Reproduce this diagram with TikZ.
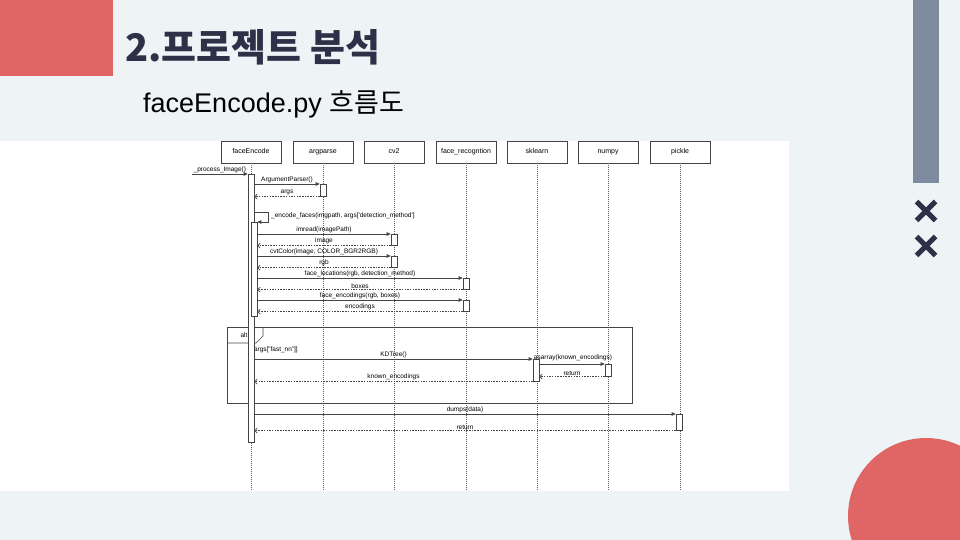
\documentclass[tikz,border=0pt]{standalone}
\usepackage{fontspec}
\setmainfont{Liberation Sans}
\newfontfamily\kr{Noto Sans CJK KR}
\usetikzlibrary{arrows.meta}
\definecolor{bgc}{HTML}{EEF3F6}
\definecolor{redc}{HTML}{E06666}
\definecolor{navy}{HTML}{2D3047}
\definecolor{barc}{HTML}{7E8A9E}
\definecolor{linec}{HTML}{444444}
\begin{document}
\begin{tikzpicture}[x=1pt,y=-1pt,
  part/.style={draw=linec, fill=white, minimum width=60pt, minimum height=22pt, inner sep=0pt, text height=5pt, text depth=1.5pt, font=\fontsize{7}{8}\selectfont, line width=0.6pt},
  life/.style={draw=black!65, line width=0.6pt, dash pattern=on 1pt off 1pt},
  actbar/.style={draw=linec, fill=white, minimum width=6pt, inner sep=0pt, line width=0.6pt, anchor=north},
  msg/.style={draw=linec, line width=0.6pt, -{Triangle[length=4pt,width=3.5pt]}},
  ret/.style={draw=linec, line width=0.6pt, dash pattern=on 1.5pt off 1.2pt, -{Straight Barb[length=2.5pt,width=5pt]}},
  lbl/.style={font=\fontsize{6.5}{7}\selectfont, inner sep=1pt, above},
  xmark/.style={draw=navy, line width=5pt}
]
\clip (0,0) rectangle (960,540);
\fill[bgc] (0,0) rectangle (960,540);
% decorations
\fill[redc] (0,0) rectangle (113,76);
\fill[barc] (913,0) rectangle (939,183);
\fill[redc] (926,516) circle (78);
\draw[xmark] (916.5,201.5) -- (935.5,220.5);
\draw[xmark] (916.5,220.5) -- (935.5,201.5);
\draw[xmark] (916.5,236.5) -- (935.5,255.5);
\draw[xmark] (916.5,255.5) -- (935.5,236.5);
% titles
\node[anchor=base west, inner sep=0pt, text=navy, font=\kr\bfseries\fontsize{38}{40}\selectfont] (title) at (125,62) {2.프로젝트 분석};
\node[anchor=base west, inner sep=0pt, text=black, font=\fontsize{27}{30}\selectfont] (sub) at (143,113) {faceEncode.py {\kr 흐름도}};
% diagram panel
\fill[white] (0,141) rectangle (789,491);
% participants
\node[part] (p1) at (251,152) {faceEncode};
\node[part] (p2) at (323,152) {argparse};
\node[part] (p3) at (394,152) {cv2};
\node[part] (p4) at (466,152) {face\_recogntion};
\node[part] (p5) at (537,152) {sklearn};
\node[part] (p6) at (608,152) {numpy};
\node[part] (p7) at (680,152) {pickle};
\foreach \p in {p1,p2,p3,p4,p5,p6,p7}{
  \draw[life] (\p.south) -- (\p.south |- 0,490);
}
% alt frame
\draw[draw=linec, line width=0.6pt] (227,327) rectangle (632,403);
\draw[draw=linec, line width=0.6pt] (227,343) -- (256,343) -- (263,336) -- (263,327);
\node[font=\fontsize{6.5}{7}\selectfont, inner sep=0pt] (alt) at (244,335) {alt};
\node[anchor=west, font=\fontsize{6.5}{7}\selectfont, inner sep=0pt] (guard) at (252,350) {[args["fast\_nn"]]};
% activation bars
\node[actbar, minimum height=268pt] (fe) at (251,174) {};
\node[actbar, minimum height=94pt] (fe2) at (254,222) {};
\node[actbar, minimum height=12pt] (a1) at (323,184) {};
\node[actbar, minimum height=11pt] (c1) at (394,234) {};
\node[actbar, minimum height=11pt] (c2) at (394,256) {};
\node[actbar, minimum height=11pt] (f1) at (466,278) {};
\node[actbar, minimum height=11pt] (f2) at (466,300) {};
\node[actbar, minimum height=22pt] (sk) at (536,359) {};
\node[actbar, minimum height=12pt] (np) at (608,364) {};
\node[actbar, minimum height=16pt] (pk) at (679,414) {};
% messages
\coordinate (start) at (192,174);
\draw[msg] (start) -- node[lbl] {\_process\_Image()} (fe.north west);
\draw[msg] (fe.east |- a1.north) -- node[lbl] {ArgumentParser()} (a1.north west);
\draw[ret] (a1.south west) -- node[lbl] {args} (fe.east |- a1.south);
\draw[msg] (fe.east |- 0,212) -- ++(14,0) -- ++(0,10) -- (fe2.north east);
\node[anchor=west, font=\fontsize{6.5}{7}\selectfont, inner sep=0pt] (encl) at (271,216) {\_encode\_faces(imgpath, args[\textquotesingle detection\_method\textquotesingle]};
\draw[msg] (fe2.east |- c1.north) -- node[lbl] {imread(imagePath)} (c1.north west);
\draw[ret] (c1.south west) -- node[lbl] {image} (fe2.east |- c1.south);
\draw[msg] (fe2.east |- c2.north) -- node[lbl] {cvtColor(image, COLOR\_BGR2RGB)} (c2.north west);
\draw[ret] (c2.south west) -- node[lbl] {rgb} (fe2.east |- c2.south);
\draw[msg] (fe2.east |- f1.north) -- node[lbl] {face\_locations(rgb, detection\_method)} (f1.north west);
\draw[ret] (f1.south west) -- node[lbl] {boxes} (fe2.east |- f1.south);
\draw[msg] (fe2.east |- f2.north) -- node[lbl] {face\_encodings(rgb, boxes)} (f2.north west);
\draw[ret] (f2.south west) -- node[lbl] {encodings} (fe2.east |- f2.south);
\draw[msg] (fe.east |- sk.north) -- node[lbl] {KDTree()} (sk.north west);
\node[font=\fontsize{6.5}{7}\selectfont, inner sep=0pt] (asl) at (573,358) {asarray(known\_encodings)};
\draw[msg] (sk.east |- np.north) -- (np.north west);
\draw[ret] (np.south west) -- node[lbl] {return} (sk.east |- np.south);
\draw[ret] (sk.south west) -- node[lbl] {known\_encodings} (fe.east |- sk.south);
\draw[msg] (fe.east |- pk.north) -- node[lbl] {dumps(data)} (pk.north west);
\draw[ret] (pk.south west) -- node[lbl] {return} (fe.east |- pk.south);
\end{tikzpicture}
\end{document}
